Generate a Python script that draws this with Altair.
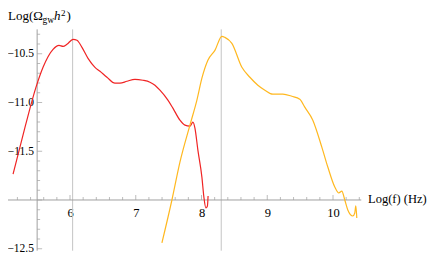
import altair as alt
import pandas as pd
import numpy as np

# ---- data ----
red_x = [5.134, 5.316, 5.483, 5.590, 5.742, 5.833, 5.894, 5.954, 6.046, 6.106, 6.182, 6.274,
         6.380, 6.456, 6.562, 6.684, 6.760, 6.866, 6.988, 7.109, 7.216, 7.292, 7.368, 7.489,
         7.565, 7.672, 7.748, 7.824, 7.869, 7.900, 7.945, 8.006, 8.036, 8.067, 8.090, 8.100]
red_y = [-11.734, -11.253, -10.843, -10.639, -10.455, -10.414, -10.424, -10.403, -10.352, -10.362,
         -10.434, -10.547, -10.639, -10.680, -10.741, -10.802, -10.802, -10.782, -10.762, -10.772,
         -10.792, -10.823, -10.874, -10.976, -11.058, -11.181, -11.232, -11.243, -11.202, -11.263,
         -11.488, -11.765, -11.969, -12.082, -12.061, -11.959]

orange_x = [7.398, 7.550, 7.672, 7.824, 7.930, 8.006, 8.097, 8.204, 8.310, 8.356, 8.462, 8.614,
            8.736, 8.857, 8.964, 9.085, 9.237, 9.374, 9.495, 9.571, 9.693, 9.830, 9.921, 10.027,
            10.088, 10.134, 10.179, 10.225, 10.301, 10.331, 10.347, 10.362]
orange_y = [-12.440, -12.0, -11.611, -11.232, -10.976, -10.751, -10.567, -10.465, -10.321, -10.332,
            -10.393, -10.639, -10.741, -10.823, -10.874, -10.915, -10.915, -10.936, -10.966, -11.048,
            -11.181, -11.458, -11.662, -11.867, -11.928, -11.908, -12.0, -12.102, -12.164, -12.133,
            -12.061, -12.184]

x_labels = [6, 7, 8, 9, 10]
y_labels = [-10.5, -11.0, -11.5, -12.5]
x_major = [6, 7, 8, 9, 10]
x_minor = [round(v, 1) for v in np.arange(5.2, 10.41, 0.2) if abs(v - round(v)) > 1e-6]
y_major = [-12.5, -12.0, -11.5, -11.0, -10.5]
y_minor = [round(v, 1) for v in np.arange(-12.4, -10.29, 0.1) if abs(v * 2 - round(v * 2)) > 1e-6]
grid_x = [6.04, 8.30]
axis_origin_x = 5.5
axis_origin_y = -12.0
x_axis_span = [5.04, 10.43]
y_axis_span = [-12.52, -10.25]

X_DOM = [5.057, 11.4448]
Y_DOM = [-12.5744, -10.0308]
W, H = 420, 248

xs = alt.Scale(domain=X_DOM, nice=False, zero=False)
ys = alt.Scale(domain=Y_DOM, nice=False, zero=False)

AX = "#a0a0a0"
FONT = "Liberation Serif"

lines_df = pd.DataFrame({
    "x": red_x + orange_x,
    "y": red_y + orange_y,
    "s": ["a"] * len(red_x) + ["b"] * len(orange_x),
})

base_axes = alt.Chart(pd.DataFrame({"x": x_labels})).mark_point(opacity=0).encode(
    x=alt.X("x:Q", scale=xs, axis=alt.Axis(values=x_labels, orient="bottom", offset=-56,
                                           domain=False, ticks=False, tickSize=0, grid=False,
                                           labelPadding=16, labelBaseline="alphabetic",
                                           labelFont=FONT, labelFontSize=12.5, labelColor="black",
                                           format="d", title=None)),
)
y_axis_layer = alt.Chart(pd.DataFrame({"y": y_labels})).mark_point(opacity=0).encode(
    y=alt.Y("y:Q", scale=ys, axis=alt.Axis(values=y_labels, orient="left", offset=-29,
                                           domain=False, ticks=False, tickSize=0, grid=False,
                                           labelPadding=3.5, labelFont=FONT, labelFontSize=11.5,
                                           labelColor="black", format=".1f", title=None)),
)

grid = alt.Chart(pd.DataFrame({"x": grid_x, "y1": [y_axis_span[0]] * 2, "y2": [y_axis_span[1]] * 2})).mark_rule(
    color="#c4c4c4", strokeWidth=1).encode(
    x=alt.X("x:Q", scale=xs),
    y=alt.Y("y1:Q", scale=ys),
    y2="y2:Q",
)

xaxis_line = alt.Chart(pd.DataFrame({"x1": [x_axis_span[0]], "x2": [x_axis_span[1]],
                                     "y": [axis_origin_y]})).mark_rule(color=AX, strokeWidth=1).encode(
    x=alt.X("x1:Q", scale=xs), x2="x2:Q", y=alt.Y("y:Q", scale=ys))
yaxis_line = alt.Chart(pd.DataFrame({"y1": [y_axis_span[0]], "y2": [y_axis_span[1]],
                                     "x": [axis_origin_x]})).mark_rule(color=AX, strokeWidth=1).encode(
    y=alt.Y("y1:Q", scale=ys), y2="y2:Q", x=alt.X("x:Q", scale=xs))

xt_major = alt.Chart(pd.DataFrame({"x": x_major, "y": [axis_origin_y] * len(x_major)})).mark_tick(
    orient="vertical", size=5, thickness=1, color=AX, yOffset=-2.5).encode(
    x=alt.X("x:Q", scale=xs), y=alt.Y("y:Q", scale=ys))
xt_minor = alt.Chart(pd.DataFrame({"x": x_minor, "y": [axis_origin_y] * len(x_minor)})).mark_tick(
    orient="vertical", size=3, thickness=1, color=AX, yOffset=-1.5).encode(
    x=alt.X("x:Q", scale=xs), y=alt.Y("y:Q", scale=ys))
yt_major = alt.Chart(pd.DataFrame({"y": y_major, "x": [axis_origin_x] * len(y_major)})).mark_tick(
    orient="horizontal", size=5, thickness=1, color=AX, xOffset=2.5).encode(
    x=alt.X("x:Q", scale=xs), y=alt.Y("y:Q", scale=ys))
yt_minor = alt.Chart(pd.DataFrame({"y": y_minor, "x": [axis_origin_x] * len(y_minor)})).mark_tick(
    orient="horizontal", size=3, thickness=1, color=AX, xOffset=1.5).encode(
    x=alt.X("x:Q", scale=xs), y=alt.Y("y:Q", scale=ys))

curves = alt.Chart(lines_df).mark_line(strokeWidth=1.2, interpolate="monotone").encode(
    x=alt.X("x:Q", scale=xs),
    y=alt.Y("y:Q", scale=ys),
    color=alt.Color("s:N", scale=alt.Scale(domain=["a", "b"], range=["#f02424", "#ffb81f"]), legend=None),
    detail="s:N",
)


def txt(t, x, y, size=13, style="normal"):
    return alt.Chart(pd.DataFrame({"t": [t]})).mark_text(
        align="left", baseline="alphabetic", font=FONT, fontSize=size, fontStyle=style, color="black"
    ).encode(text="t:N", x=alt.value(x), y=alt.value(y))


title_parts = [
    txt("Log(Ω", 0, 11.5),
    txt("gw", 34.5, 14.5, size=9.5),
    txt("h", 46, 11.5, style="italic"),
    txt("2", 53, 7.5, size=9),
    txt(")", 58.5, 11.5),
    txt("Log(f) (Hz)", 360, 195, size=12.5),
]

chart = alt.layer(
    base_axes, y_axis_layer, grid, xaxis_line, yaxis_line,
    xt_minor, xt_major, yt_minor, yt_major, curves, *title_parts
).properties(
    width=W, height=H, autosize=alt.AutoSizeParams(type="none"), padding=0, background="white"
).configure_view(stroke="transparent", strokeWidth=0)

chart.save("out.html", embed_options={"renderer": "svg", "actions": False})
